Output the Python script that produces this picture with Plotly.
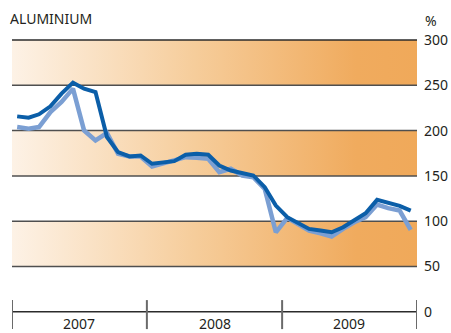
import plotly.graph_objects as go

# Monthly observations, Jan 2007 - Dec 2009 (index, %)
years = [2007, 2008, 2009]
months = [f"{y}-{m:02d}-15" for y in years for m in range(1, 13)]

series_dark = [
    215.7, 214.2, 218.0, 226.8, 240.8, 252.9, 246.3, 242.6, 192.9, 176.3, 171.5, 172.6,
    163.4, 165.2, 166.3, 173.3, 174.4, 173.3, 161.5, 156.0, 153.1, 150.5, 137.6, 117.3,
    104.4, 97.8, 91.5, 89.7, 87.8, 93.3, 101.5, 108.8, 123.6, 119.9, 116.9, 111.8,
]
series_light = [
    203.9, 202.1, 203.9, 220.5, 231.6, 246.3, 200.2, 189.2, 197.3, 174.4, 171.5, 171.5,
    160.4, 164.1, 166.3, 170.7, 170.0, 168.9, 154.2, 157.9, 150.5, 148.6, 135.7, 87.8,
    103.7, 97.0, 89.7, 86.7, 83.0, 91.5, 98.9, 104.4, 118.4, 114.4, 111.8, 90.4,
]

y_ticks = [0, 50, 100, 150, 200, 250, 300]
bands = [(50, 100), (150, 200), (250, 300)]
year_labels = [str(y) for y in years]

x_start, x_end = "2007-01-01", "2010-01-01"
band_scale = [[0.0, "#fdf2e6"], [0.45, "#f6cd9b"], [0.85, "#f0ab5e"], [1.0, "#f0a95a"]]
rule_color = "#4f4f4f"
font_family = "Noto Sans, Open Sans, DejaVu Sans, sans-serif"

fig = go.Figure()

# Shaded horizontal bands with a left-to-right gradient
for lo, hi in bands:
    fig.add_trace(go.Scatter(
        x=[x_start, x_end, x_end, x_start, x_start],
        y=[lo, lo, hi, hi, lo],
        mode="lines", fill="toself",
        fillgradient=dict(type="horizontal", colorscale=band_scale),
        line=dict(width=0), hoverinfo="skip", showlegend=False,
    ))

# Horizontal rules at each tick value, drawn over the bands
for v in y_ticks:
    fig.add_trace(go.Scatter(
        x=[x_start, x_end], y=[v, v], mode="lines",
        line=dict(color="#2b2b2b" if v in (0, 300) else rule_color, width=1.5),
        hoverinfo="skip", showlegend=False,
    ))

fig.add_trace(go.Scatter(
    x=months, y=series_light, mode="lines",
    line=dict(color="#7b9fd3", width=4.5), showlegend=False,
))
fig.add_trace(go.Scatter(
    x=months, y=series_dark, mode="lines",
    line=dict(color="#0b5ea8", width=4), showlegend=False,
))

# Year separators crossing the baseline
for y in years + [years[-1] + 1]:
    fig.add_shape(type="line", xref="x", yref="y",
                  x0=f"{y}-01-01", x1=f"{y}-01-01", y0=-19, y1=13,
                  line=dict(color="#6a6a6a", width=2), layer="above")

# Year labels centred under each year
for y, label in zip(years, year_labels):
    fig.add_annotation(x=f"{y}-07-02", y=-12.7, xref="x", yref="y",
                       text=label, showarrow=False, yanchor="middle",
                       font=dict(size=14, color="#231f20", family=font_family))

fig.add_annotation(x=1, y=1.03, xref="paper", yref="paper", xanchor="left",
                   yanchor="middle", xshift=6, text="%", showarrow=False,
                   font=dict(size=14, color="#231f20", family=font_family))

fig.update_layout(
    width=451, height=333,
    margin=dict(l=12, r=31, t=30, b=3),
    paper_bgcolor="white", plot_bgcolor="white",
    title=dict(text="ALUMINIUM", x=10 / 451, xanchor="left", xref="container",
               y=1 - 19 / 333, yanchor="middle", yref="container",
               font=dict(size=14, color="#231f20", family=font_family)),
    xaxis=dict(range=[x_start, x_end], showgrid=False, zeroline=False,
               showticklabels=False, ticks="", showline=False),
    yaxis=dict(range=[-20, 311], side="right", tickvals=y_ticks,
               ticktext=[str(v) for v in y_ticks], showgrid=False,
               zeroline=False, ticks="", showline=False, ticklabelstandoff=6,
               tickfont=dict(size=14, color="#231f20", family=font_family)),
)

fig.write_html("out.html")
